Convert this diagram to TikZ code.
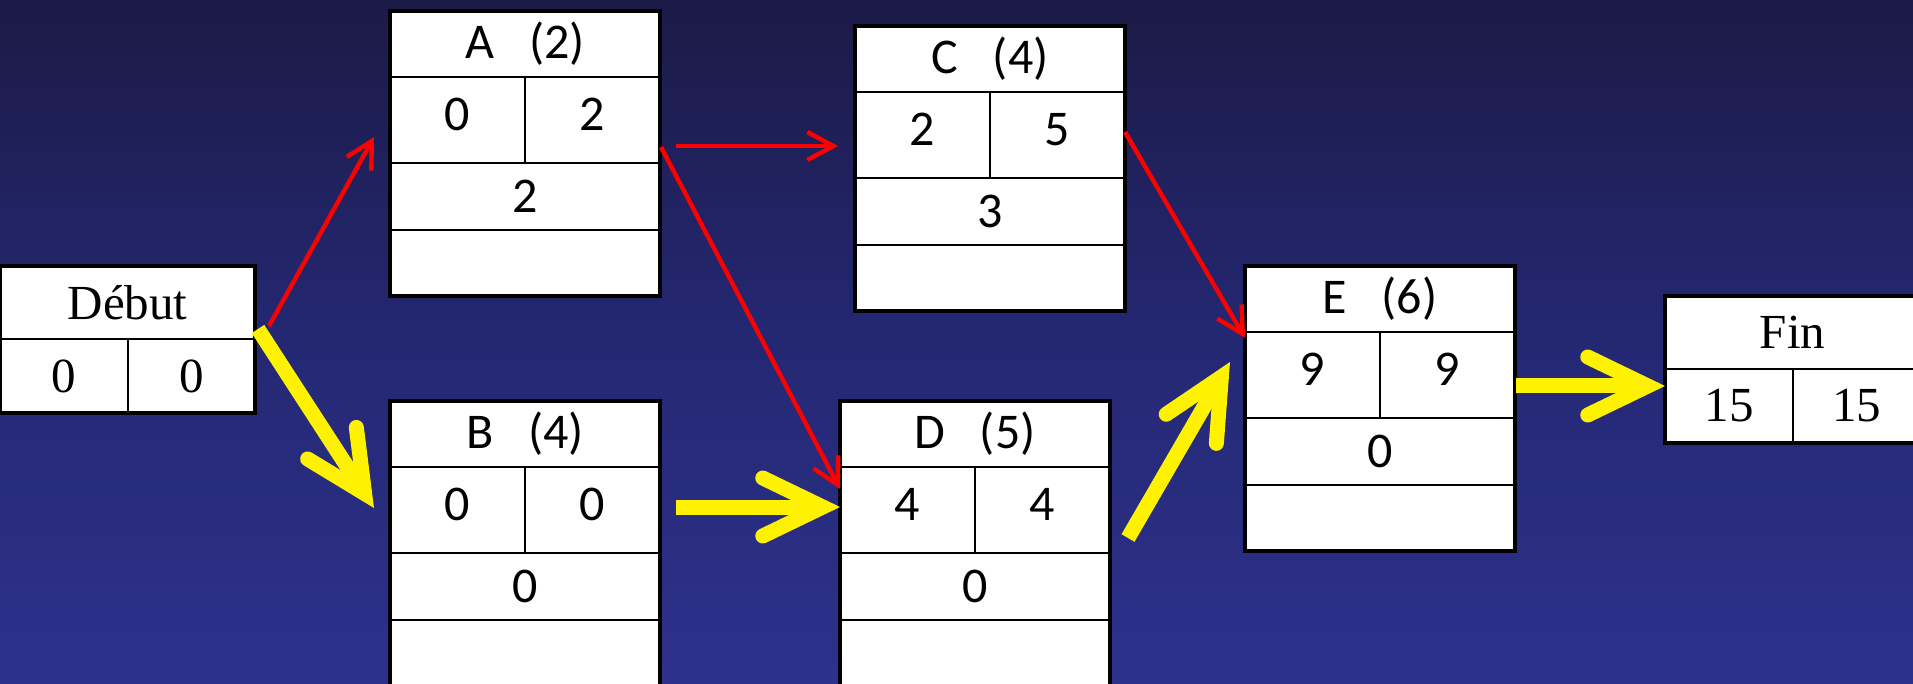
\documentclass[tikz,border=0pt]{standalone}
\usepackage{fontspec}
\newfontfamily\calfont{Carlito}
\newfontfamily\tmsfont{Liberation Serif}
\usetikzlibrary{arrows.meta,fit,calc}
\definecolor{bgtop}{RGB}{28,26,70}
\definecolor{bgmid}{RGB}{36,40,115}
\definecolor{bgbot}{RGB}{46,49,140}
\pgfdeclareverticalshading{bgshade}{100bp}{color(0bp)=(bgbot); color(25bp)=(bgbot); color(50bp)=(bgmid); color(75bp)=(bgtop); color(100bp)=(bgtop)}
\tikzset{
  cell/.style={draw=black, fill=white, line width=1.2pt, inner sep=0pt, outer sep=0pt, anchor=north west},
  outline/.style={draw=black, line width=1.6pt},
  redarr/.style={draw=red, line width=2.2pt, -{Straight Barb[length=13pt,width=14pt]}},
  yelarr/.style={draw=yellow, line width=7.5pt, -{Straight Barb[length=30pt,width=29pt,line cap=round,line join=miter]}},
  calt/.style={font=\calfont\fontsize{25}{29}\selectfont},
  tmst/.style={font=\tmsfont\fontsize{24.5}{28}\selectfont},
}
\newcommand\actbox[7]{%
  \node[cell, calt, minimum width=135pt, minimum height=33pt] (#1t) at (#2,#3) {#4};
  \node[cell, calt, minimum width=67.5pt, minimum height=43pt, text depth=6pt] (#1es) at (#1t.south west) {#5};
  \node[cell, calt, minimum width=67.5pt, minimum height=43pt, text depth=6pt] (#1ef) at (#1es.north east) {#6};
  \node[cell, calt, minimum width=135pt, minimum height=33.5pt] (#1s) at (#1es.south west) {#7};
  \node[cell, minimum width=135pt, minimum height=33pt] (#1b) at (#1s.south west) {};
  \draw[outline] (#1t.north west) rectangle (#1b.south east);
  \node[fit=(#1t)(#1b), inner sep=0pt] (#1) {};
}
\newcommand\termbox[6]{%
  \node[cell, tmst, minimum width=127.5pt, minimum height=36.5pt] (#1t) at (#2,#3) {#4};
  \node[cell, tmst, minimum width=64pt, minimum height=37pt] (#1l) at (#1t.south west) {#5};
  \node[cell, tmst, minimum width=63.5pt, minimum height=37pt] (#1r) at (#1l.north east) {#6};
  \draw[outline] (#1t.north west) rectangle (#1r.south east);
  \node[fit=(#1t)(#1r), inner sep=0pt] (#1) {};
}
\begin{document}
\begin{tikzpicture}[x=0.5pt, y=-0.5pt]
\useasboundingbox (0,0) rectangle (1913,684);
\shade[shading=bgshade] (0,0) rectangle (1913,684);

\termbox{Deb}{0}{266}{Début}{0}{0}
\termbox{Fin}{1665}{296}{Fin}{15}{15}
\actbox{A}{390}{11}{A\hspace{0.7em}(2)}{0}{2}{2}
\actbox{B}{390}{401}{B\hspace{0.7em}(4)}{0}{0}{0}
\actbox{C}{855}{26}{C\hspace{0.7em}(4)}{2}{5}{3}
\actbox{D}{840}{401}{D\hspace{0.7em}(5)}{4}{4}{0}
\actbox{E}{1245}{266}{E\hspace{0.7em}(6)}{9}{9}{0}

% red (non critical) links
\draw[redarr] ([shift={(14,-13)}]Debt.south east) -- ([shift={(-16,17)}]Aes.west);
\draw[redarr] ([shift={(16,26)}]Aef.east) -- ([shift={(-17,11)}]Ces.west);
\draw[redarr] ([shift={(1,27)}]Aef.east) -- ([shift={(0,-21)}]Des.west);
\draw[redarr] ([shift={(0,-3)}]Cef.east) -- ([shift={(0,6)}]Ees.north west);

% yellow (critical path) links
\draw[yelarr] ([shift={(3,-10)}]Debt.south east) -- ([shift={(-16,-2)}]Bes.west);
\draw[yelarr] ([shift={(16,-3)}]Bef.east) -- ([shift={(0,-3)}]Des.west);
\draw[yelarr] ([shift={(18,28)}]Def.east) -- ([shift={(-15,-13)}]Ees.west);
\draw[yelarr] ([shift={(1,11)}]Eef.east) -- ([shift={(0,-20)}]Finl.west);
\end{tikzpicture}
\end{document}
